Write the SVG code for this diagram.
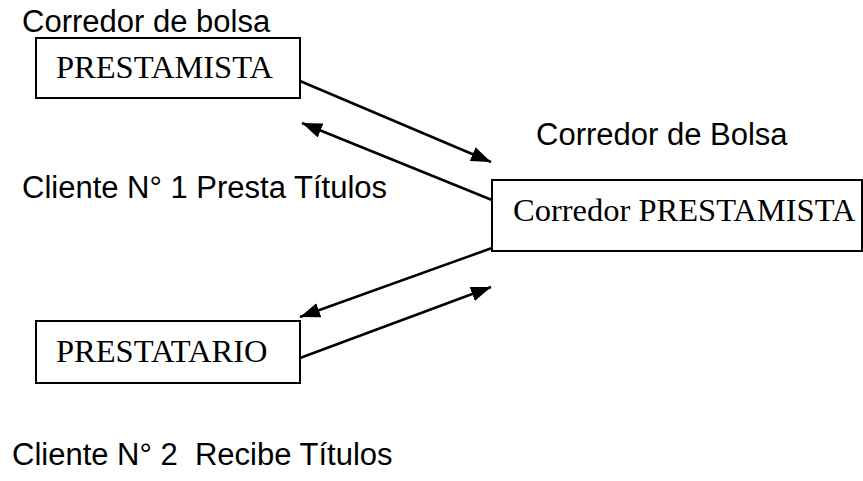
<svg xmlns="http://www.w3.org/2000/svg" width="863" height="481" viewBox="0 0 863 481">
<style>
.box{fill:#fff;stroke:#000;stroke-width:2}
.serif{font-family:"Liberation Serif","Times New Roman",serif;font-size:32.5px;fill:#000}
.sans{font-family:"Liberation Sans",Arial,sans-serif;font-size:31px;fill:#000}
.conn{stroke:#000;stroke-width:2.5;fill:none;marker-end:url(#ah)}
</style>
<defs>
<marker id="ah" viewBox="0 0 10 10" refX="10" refY="5" markerUnits="userSpaceOnUse" markerWidth="20" markerHeight="15" preserveAspectRatio="none" orient="auto">
<path d="M0,0 L10,5 L0,10 z" fill="#000"/>
</marker>
</defs>
<text class="sans" x="22" y="32">Corredor de bolsa</text>
<text class="sans" x="536" y="145">Corredor de Bolsa</text>
<text class="sans" x="22" y="198">Cliente N° 1 Presta Títulos</text>
<text class="sans" x="12" y="465" xml:space="preserve">Cliente N° 2  Recibe Títulos</text>
<g id="prestamista">
<rect class="box" x="36" y="38" width="264" height="60"/>
<text class="serif" x="56" y="78">PRESTAMISTA</text>
</g>
<g id="corredor-prestamista">
<rect class="box" x="492" y="180" width="370" height="71"/>
<text class="serif" x="513" y="221">Corredor PRESTAMISTA</text>
</g>
<g id="prestatario">
<rect class="box" x="36" y="321" width="264" height="62"/>
<text class="serif" x="56" y="362">PRESTATARIO</text>
</g>
<g id="connectors">
<line class="conn" x1="300" y1="81" x2="491" y2="162"/>
<line class="conn" x1="492" y1="200" x2="302" y2="123"/>
<line class="conn" x1="492" y1="248" x2="300" y2="317"/>
<line class="conn" x1="300" y1="358" x2="491" y2="287"/>
</g>
</svg>
